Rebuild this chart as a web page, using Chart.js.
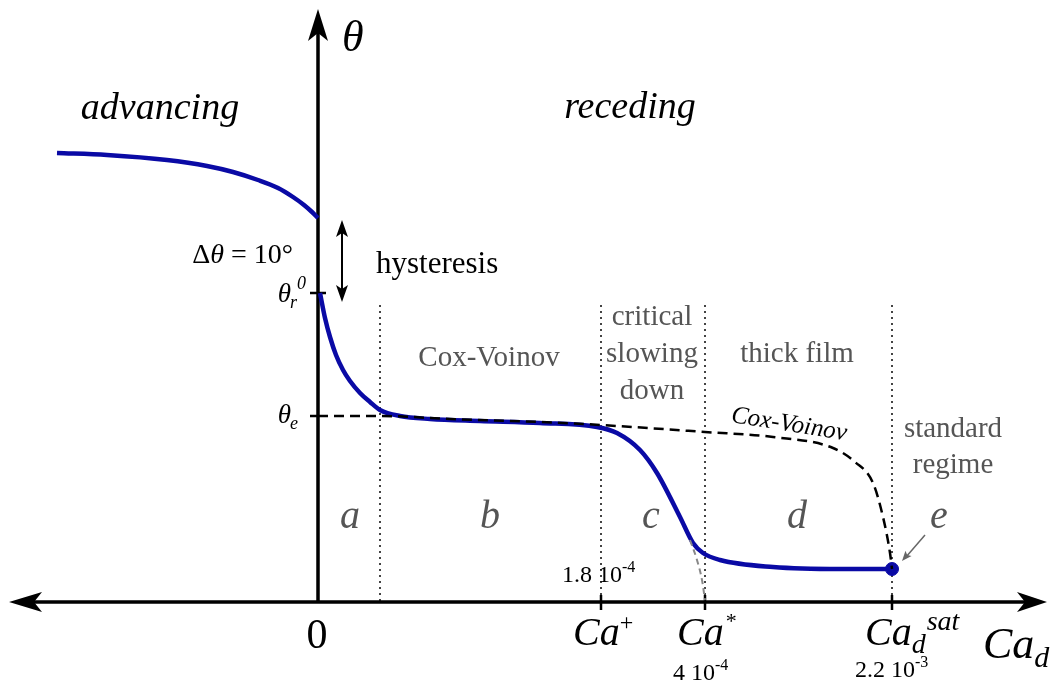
<!DOCTYPE html>
<html>
<head>
<meta charset="utf-8">
<script src="https://cdn.jsdelivr.net/npm/chart.js@4/dist/chart.umd.min.js"></script>
<style>
  html, body { margin: 0; padding: 0; background: #fff; overflow: hidden; }
  #wrap { width: 1057px; height: 690px; }
</style>
</head>
<body>
<div id="wrap"><canvas id="c" width="1057" height="690"></canvas></div>
<script>
// schematic units: x = distance right of the theta axis, y = height above the Ca axis
const advancingX = [-261, -211, -151, -111, -85, -60, -40, -25, -14, -6, 0];
const advancingY = [449, 447, 442, 436, 430, 422, 414, 405, 397, 390, 384];

const recedingX = [2, 7, 12, 18, 25, 32, 42, 52, 62, 82, 112, 162, 222, 279, 299, 322, 339, 362, 375, 385, 402, 455, 522, 574];
const recedingY = [309, 284, 265, 247, 232, 221, 209, 200, 192, 186, 183, 181, 179, 175, 169, 152, 129, 85, 59, 49, 42, 35, 33, 33];

const coxVoinovX = [0, 63, 132, 222, 283, 387, 455, 515, 537, 555, 565, 572, 574];
const coxVoinovY = [186, 186, 183, 180, 177, 170, 165, 154, 140, 119, 85, 49, 33];

const extrapX = [372, 379, 384, 387];
const extrapY = [62, 42, 22, 2];

const saturation = { x: 574, y: 33 };

const thetaR0 = 309;   // receding angle at Ca = 0
const thetaE = 186;    // equilibrium angle
const regimeBounds = [62, 283, 387, 574];
const regimeLetters = ['a', 'b', 'c', 'd', 'e'];
const regimeLetterX = [32, 172, 333, 479, 621];

const BLUE = '#0a0aa5';
const GREY = '#555555';
const SERIF = '"Liberation Serif", "DejaVu Serif", serif';

function pts(xs, ys) { return xs.map((x, i) => ({ x: x, y: ys[i] })); }

// draw runs of text (with sub/superscripts) starting at x,y
function rich(ctx, runs, x, y, align) {
  let w = 0;
  runs.forEach(r => { ctx.font = r.font; w += ctx.measureText(r.t).width + (r.kern || 0); });
  let cx = x;
  if (align === 'center') cx = x - w / 2;
  if (align === 'right') cx = x - w;
  ctx.textAlign = 'left';
  ctx.textBaseline = 'alphabetic';
  runs.forEach(r => {
    ctx.font = r.font;
    ctx.fillStyle = r.color || '#000';
    cx += (r.kern || 0);
    ctx.fillText(r.t, cx, y + (r.dy || 0));
    cx += ctx.measureText(r.t).width;
  });
}

function arrowHead(ctx, tx, ty, dx, dy, len, half, notch) {
  // dx,dy: unit vector pointing from tail toward tip
  const px = -dy, py = dx;
  ctx.beginPath();
  ctx.moveTo(tx, ty);
  ctx.lineTo(tx - dx * len + px * half, ty - dy * len + py * half);
  ctx.lineTo(tx - dx * notch, ty - dy * notch);
  ctx.lineTo(tx - dx * len - px * half, ty - dy * len - py * half);
  ctx.closePath();
  ctx.fill();
}

const sketchPlugin = {
  id: 'sketch',
  beforeDatasetsDraw(chart) {
    const ctx = chart.ctx, xs = chart.scales.x, ys = chart.scales.y;
    const X = v => xs.getPixelForValue(v), Y = v => ys.getPixelForValue(v);
    ctx.save();

    // regime boundaries
    ctx.strokeStyle = '#444';
    ctx.lineWidth = 2;
    ctx.setLineDash([2, 4]);
    regimeBounds.forEach(b => {
      ctx.beginPath();
      ctx.moveTo(X(b), Y(297));
      ctx.lineTo(X(b), Y(0));
      ctx.stroke();
    });
    ctx.setLineDash([]);

    // axes
    ctx.strokeStyle = '#000';
    ctx.fillStyle = '#000';
    ctx.lineWidth = 3.5;
    ctx.beginPath();
    ctx.moveTo(X(-300), Y(0));
    ctx.lineTo(X(720), Y(0));
    ctx.moveTo(X(0), Y(0));
    ctx.lineTo(X(0), Y(575));
    ctx.stroke();
    arrowHead(ctx, X(-309), Y(0), -1, 0, 33, 10, 25);
    arrowHead(ctx, X(729), Y(0), 1, 0, 30, 10, 22);
    arrowHead(ctx, X(0), Y(593), 0, -1, 32, 10, 24);

    // ticks
    ctx.lineWidth = 2.5;
    ctx.beginPath();
    regimeBounds.slice(1).forEach(b => {
      ctx.moveTo(X(b), Y(0) - 7);
      ctx.lineTo(X(b), Y(0) + 8);
    });
    ctx.moveTo(X(0) - 8, Y(thetaR0));
    ctx.lineTo(X(0) + 8, Y(thetaR0));
    ctx.moveTo(X(0) - 8, Y(thetaE));
    ctx.lineTo(X(0), Y(thetaE));
    ctx.stroke();
    ctx.restore();
  },
  afterDatasetsDraw(chart) {
    const ctx = chart.ctx, xs = chart.scales.x, ys = chart.scales.y;
    const X = v => xs.getPixelForValue(v), Y = v => ys.getPixelForValue(v);
    const it = s => 'italic ' + s + 'px ' + SERIF;
    const rg = s => s + 'px ' + SERIF;
    ctx.save();

    // hysteresis double arrow
    ctx.strokeStyle = '#000';
    ctx.fillStyle = '#000';
    ctx.lineWidth = 2;
    ctx.beginPath();
    ctx.moveTo(X(24), Y(375));
    ctx.lineTo(X(24), Y(307));
    ctx.stroke();
    arrowHead(ctx, X(24), Y(382), 0, -1, 17, 6, 13);
    arrowHead(ctx, X(24), Y(300), 0, 1, 17, 6, 13);

    // small arrow to the saturation point
    ctx.strokeStyle = '#666';
    ctx.fillStyle = '#666';
    ctx.lineWidth = 1.5;
    ctx.beginPath();
    ctx.moveTo(X(607), Y(67));
    ctx.lineTo(X(588), Y(45));
    ctx.stroke();
    arrowHead(ctx, X(584), Y(41), -0.65, 0.76, 10, 4, 8);

    // axis titles and big labels
    rich(ctx, [{ t: 'θ', font: it(44) }], X(24), Y(551), 'left');
    rich(ctx, [{ t: 'advancing', font: it(38) }], X(-158), Y(483), 'center');
    rich(ctx, [{ t: 'receding', font: it(38) }], X(312), Y(484), 'center');
    rich(ctx, [{ t: 'Δ', font: rg(28) }, { t: 'θ', font: it(28) }, { t: ' = 10°', font: rg(28) }], X(-25), Y(339), 'right');
    rich(ctx, [{ t: 'hysteresis', font: rg(31) }], X(58), Y(329), 'left');
    rich(ctx, [{ t: 'θ', font: it(27) }, { t: 'r', font: it(18), dy: 6, kern: -1 }, { t: '0', font: it(18), dy: -13 }], X(-12), Y(300), 'right');
    rich(ctx, [{ t: 'θ', font: it(27) }, { t: 'e', font: it(18), dy: 6, kern: -1 }], X(-20), Y(179), 'right');

    // regime names
    const g = rg(29);
    rich(ctx, [{ t: 'Cox-Voinov', font: g, color: GREY }], X(171), Y(236), 'center');
    rich(ctx, [{ t: 'critical', font: g, color: GREY }], X(334), Y(277), 'center');
    rich(ctx, [{ t: 'slowing', font: g, color: GREY }], X(334), Y(240), 'center');
    rich(ctx, [{ t: 'down', font: g, color: GREY }], X(334), Y(203), 'center');
    rich(ctx, [{ t: 'thick film', font: g, color: GREY }], X(479), Y(240), 'center');
    rich(ctx, [{ t: 'standard', font: g, color: GREY }], X(635), Y(165), 'center');
    rich(ctx, [{ t: 'regime', font: g, color: GREY }], X(635), Y(129), 'center');

    // rotated Cox-Voinov label on the dashed curve
    ctx.save();
    ctx.translate(X(470), Y(171));
    ctx.rotate(9 * Math.PI / 180);
    rich(ctx, [{ t: 'Cox-Voinov', font: it(25) }], 0, 0, 'center');
    ctx.restore();

    // regime letters
    regimeLetters.forEach((l, i) => {
      rich(ctx, [{ t: l, font: it(40), color: GREY }], X(regimeLetterX[i]), Y(74), 'center');
    });

    // Ca axis labels
    rich(ctx, [{ t: '0', font: rg(42) }], X(-1), Y(-46), 'center');
    rich(ctx, [{ t: '1.8 10', font: rg(24) }, { t: '-4', font: rg(16), dy: -10 }], X(244), Y(20), 'left');
    rich(ctx, [{ t: 'Ca', font: it(40) }, { t: '+', font: rg(24), dy: -15 }], X(255), Y(-43), 'left');
    rich(ctx, [{ t: 'Ca', font: it(40) }, { t: '*', font: rg(22), dy: -17, kern: 2 }], X(359), Y(-43), 'left');
    rich(ctx, [{ t: 'Ca', font: it(40) }, { t: 'd', font: it(28), dy: 8 }, { t: 'sat', font: it(28), dy: -15, kern: 1 }], X(547), Y(-43), 'left');
    rich(ctx, [{ t: 'Ca', font: it(44) }, { t: 'd', font: it(30), dy: 9 }], X(665), Y(-56), 'left');
    rich(ctx, [{ t: '4 10', font: rg(24) }, { t: '-4', font: rg(16), dy: -10 }], X(355), Y(-78), 'left');
    rich(ctx, [{ t: '2.2 10', font: rg(24) }, { t: '-3', font: rg(16), dy: -10 }], X(537), Y(-75), 'left');

    ctx.restore();
  }
};

new Chart(document.getElementById('c'), {
  type: 'scatter',
  data: {
    datasets: [
      {
        label: 'extrapolation',
        data: pts(extrapX, extrapY),
        showLine: true,
        borderColor: '#888',
        borderWidth: 2,
        borderDash: [6, 4],
        pointRadius: 0,
        cubicInterpolationMode: 'monotone'
      },
      {
        label: 'Cox-Voinov',
        data: pts(coxVoinovX, coxVoinovY),
        showLine: true,
        borderColor: '#000',
        borderWidth: 2.5,
        borderDash: [10, 6],
        pointRadius: 0,
        cubicInterpolationMode: 'monotone'
      },
      {
        label: 'advancing',
        data: pts(advancingX, advancingY),
        showLine: true,
        borderColor: BLUE,
        borderWidth: 4.5,
        pointRadius: 0,
        cubicInterpolationMode: 'monotone'
      },
      {
        label: 'receding',
        data: pts(recedingX, recedingY),
        showLine: true,
        borderColor: BLUE,
        borderWidth: 4.5,
        pointRadius: 0,
        cubicInterpolationMode: 'monotone'
      },
      {
        label: 'saturation',
        data: [saturation],
        showLine: false,
        pointRadius: 6.5,
        pointBackgroundColor: BLUE,
        pointBorderColor: BLUE
      }
    ]
  },
  options: {
    responsive: false,
    animation: false,
    devicePixelRatio: 1,
    layout: { padding: 0, autoPadding: false },
    plugins: { legend: { display: false }, tooltip: { enabled: false } },
    scales: {
      x: { type: 'linear', min: -318, max: 739, display: false },
      y: { type: 'linear', min: -88, max: 602, display: false }
    }
  },
  plugins: [sketchPlugin]
});
</script>
</body>
</html>
